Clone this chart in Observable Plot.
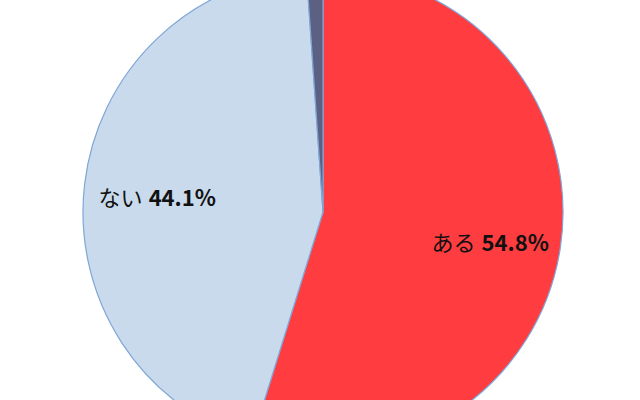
<!DOCTYPE html>
<html>
<head>
<meta charset="utf-8">
<script src="https://cdn.jsdelivr.net/npm/d3@7"></script>
<script src="https://cdn.jsdelivr.net/npm/@observablehq/plot@0.6"></script>
<style>
  html, body { margin: 0; padding: 0; background: #fff; }
  #chart { width: 640px; height: 400px; overflow: hidden; }
</style>
</head>
<body>
<div id="chart"></div>
<script>
// Data
const categories = ["ある", "ない", "無回答"];
const values = [54.8, 44.1, 1.1];
const colors = ["#FF3C3F", "#CADAED", "#5C6184"];
const showLabel = [true, true, false];

const pie = d3.pie().sort(null).value(d => d.value);
const arcs = pie(categories.map((c, i) => ({name: c, value: values[i], color: colors[i], show: showLabel[i]})));

const labelR = 0.7;
const labels = arcs.filter(a => a.data.show).map(a => {
  const m = (a.startAngle + a.endAngle) / 2;
  return {x: labelR * Math.sin(m), y: labelR * Math.cos(m), name: a.data.name, pct: a.data.value.toFixed(1) + "%"};
});

function pieMark(index, scales, values, dimensions, context) {
  const cx = scales.x(0), cy = scales.y(0);
  const r = scales.x(1) - scales.x(0);
  const arcGen = d3.arc().innerRadius(0).outerRadius(r);
  const g = d3.create("svg:g").attr("transform", `translate(${cx},${cy})`);
  g.selectAll("path").data(arcs).join("path")
    .attr("d", arcGen)
    .attr("fill", d => d.data.color)
    .attr("stroke", "#7EA6D6")
    .attr("stroke-width", 1.2)
    .attr("stroke-linejoin", "round");
  return g.node();
}

const font = "'Noto Sans CJK JP', 'Noto Sans', sans-serif";
const chart = Plot.plot({
  width: 640,
  height: 400,
  margin: 0,
  x: {domain: [-1, 1], range: [83, 563], axis: null},
  y: {domain: [-1, 1], range: [452, -28], axis: null},
  style: {background: "#fff"},
  marks: [
    pieMark,
    Plot.text(labels, {x: "x", y: "y", text: "name", textAnchor: "end", dx: -14, dy: 6,
      fontSize: 22, fill: "#111", fontFamily: font}),
    Plot.text(labels, {x: "x", y: "y", text: "pct", textAnchor: "start", dx: -8, dy: 6,
      fontSize: 22, fontWeight: "bold", fill: "#111", fontFamily: font})
  ]
});
document.getElementById("chart").appendChild(chart);
</script>
</body>
</html>
